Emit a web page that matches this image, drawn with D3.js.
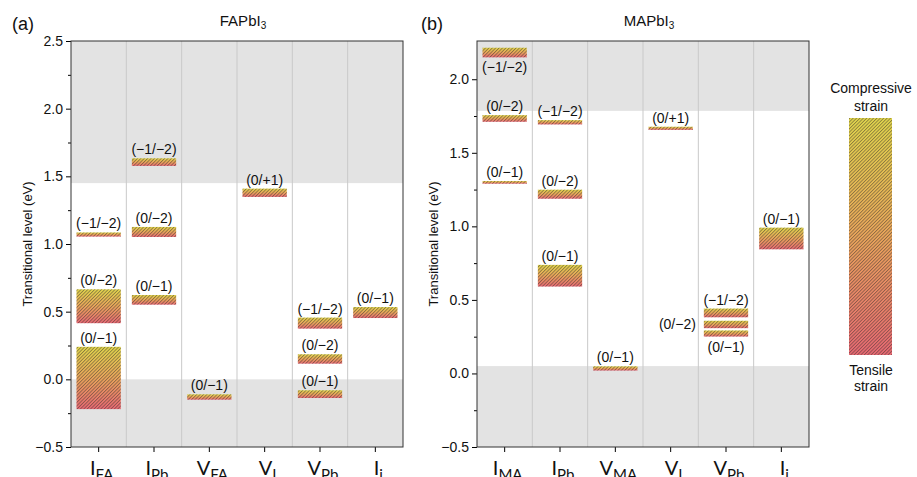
<!doctype html>
<html>
<head>
<script src="https://cdn.jsdelivr.net/npm/d3@7"></script>
<style>
  body { margin: 0; background: #fff; }
  svg { font-family: "Liberation Sans", Arial, sans-serif; }
</style>
</head>
<body>
<svg width="917" height="477"></svg>
<script>
// ---- data ----
var catsA = ["IFA", "IPb", "VFA", "VI", "VPb", "Ii"];
var mainA = ["I", "I", "V", "V", "V", "I"];
var subA  = ["FA", "Pb", "FA", "I", "Pb", "i"];

var catsB = ["IMA", "IPb", "VMA", "VI", "VPb", "Ii"];
var mainB = ["I", "I", "V", "V", "V", "I"];
var subB  = ["MA", "Pb", "MA", "I", "Pb", "i"];

// [defect, transition, low (eV), high (eV)]
var levelsA = [
  ["IFA", "(−1/−2)", 1.055, 1.085],
  ["IFA", "(0/−2)", 0.415, 0.665],
  ["IFA", "(0/−1)", -0.22, 0.24],
  ["IPb", "(−1/−2)", 1.577, 1.633],
  ["IPb", "(0/−2)", 1.052, 1.126],
  ["IPb", "(0/−1)", 0.552, 0.623],
  ["VFA", "(0/−1)", -0.15, -0.111],
  ["VI",  "(0/+1)", 1.348, 1.409],
  ["VPb", "(−1/−2)", 0.375, 0.456],
  ["VPb", "(0/−2)", 0.116, 0.185],
  ["VPb", "(0/−1)", -0.138, -0.081],
  ["Ii",  "(0/−1)", 0.453, 0.534]
];
var levelsB = [
  ["IMA", "(−1/−2)", 2.149, 2.214],
  ["IMA", "(0/−2)", 1.711, 1.756],
  ["IMA", "(0/−1)", 1.29, 1.308],
  ["IPb", "(−1/−2)", 1.693, 1.722],
  ["IPb", "(0/−2)", 1.188, 1.249],
  ["IPb", "(0/−1)", 0.591, 0.738],
  ["VMA", "(0/−1)", 0.02, 0.048],
  ["VI",  "(0/+1)", 1.656, 1.677],
  ["VPb", "(−1/−2)", 0.382, 0.441],
  ["VPb", "(0/−2)", 0.308, 0.358],
  ["VPb", "(0/−1)", 0.251, 0.292],
  ["Ii",  "(0/−1)", 0.844, 0.991]
];
// where each transition label sits in panel (b); default is above
var labelSideB = {0: "below", 9: "left", 10: "below"};

// band edges: [VBM, CBM]
var gapA = [0, 1.45];
var gapB = [0.05, 1.785];
var yDomA = [-0.5, 2.5];
var yDomB = [-0.5, 2.26];
var majorA = [-0.5, 0, 0.5, 1, 1.5, 2, 2.5];
var minorA = [-0.25, 0.25, 0.75, 1.25, 1.75, 2.25];
var majorB = [-0.5, 0, 0.5, 1, 1.5, 2];
var minorB = [-0.25, 0.25, 0.75, 1.25, 1.75];

var svg = d3.select("svg");
var defs = svg.append("defs");

var grad = defs.append("linearGradient").attr("id", "strain")
  .attr("x1", 0).attr("y1", 0).attr("x2", 0).attr("y2", 1);
grad.append("stop").attr("offset", "0%").attr("stop-color", "#e4d84c");
grad.append("stop").attr("offset", "50%").attr("stop-color", "#eea85c");
grad.append("stop").attr("offset", "100%").attr("stop-color", "#ec6a74");

var hatch = defs.append("pattern").attr("id", "hatch")
  .attr("patternUnits", "userSpaceOnUse")
  .attr("width", 2.4).attr("height", 2.4)
  .attr("patternTransform", "rotate(45)");
hatch.append("line")
  .attr("x1", 0.5).attr("y1", 0).attr("x2", 0.5).attr("y2", 2.4)
  .attr("stroke", "#2e2a2a").attr("stroke-width", 0.55).attr("stroke-opacity", 0.85);

var plotTop = 41, plotBottom = 447;

function drawPanel(opt) {
  var g = svg.append("g");
  var x = d3.scaleBand().domain(opt.cats).range([opt.x0, opt.x1])
    .paddingInner(0.2).paddingOuter(0.1);
  var y = d3.scaleLinear().domain(opt.yDom).range([plotBottom, plotTop]);

  // shaded bands (VB and CB)
  g.append("rect").attr("x", opt.x0).attr("width", opt.x1 - opt.x0)
    .attr("y", plotTop).attr("height", y(opt.gap[1]) - plotTop).attr("fill", "#e3e3e3");
  g.append("rect").attr("x", opt.x0).attr("width", opt.x1 - opt.x0)
    .attr("y", y(opt.gap[0])).attr("height", plotBottom - y(opt.gap[0])).attr("fill", "#e3e3e3");

  // column separators
  g.selectAll(".sep").data(opt.cats.slice(1)).enter().append("line")
    .attr("x1", d => x(d) - x.step() * 0.1).attr("x2", d => x(d) - x.step() * 0.1)
    .attr("y1", plotTop).attr("y2", plotBottom)
    .attr("stroke", "#c9c9c9").attr("stroke-width", 1);

  // levels
  var bars = g.selectAll(".lvl").data(opt.levels).enter().append("g");
  bars.append("rect")
    .attr("x", d => x(d[0])).attr("width", x.bandwidth())
    .attr("y", d => y(d[3])).attr("height", d => y(d[2]) - y(d[3]))
    .attr("fill", "url(#strain)");
  bars.append("rect")
    .attr("x", d => x(d[0])).attr("width", x.bandwidth())
    .attr("y", d => y(d[3])).attr("height", d => y(d[2]) - y(d[3]))
    .attr("fill", "url(#hatch)");

  bars.append("text")
    .attr("font-size", 14).attr("fill", "#111")
    .attr("text-anchor", (d, i) => (opt.sides[i] == "left") ? "end" : "middle")
    .attr("x", (d, i) => (opt.sides[i] == "left") ? x(d[0]) - 8 : x(d[0]) + x.bandwidth() / 2)
    .attr("y", function(d, i) {
      if (opt.sides[i] == "below") return y(d[2]) + 15;
      if (opt.sides[i] == "left") return (y(d[2]) + y(d[3])) / 2 + 5;
      return y(d[3]) - 4;
    })
    .text(d => d[1]);

  // axes
  var ya = g.append("g").attr("transform", "translate(" + opt.x0 + ",0)")
    .call(d3.axisLeft(y).tickValues(opt.major).tickSize(5).tickSizeOuter(0)
      .tickPadding(3).tickFormat(d3.format(".1f")));
  ya.selectAll("text").attr("font-size", 14).attr("fill", "#111")
    .attr("font-family", "Liberation Sans, Arial, sans-serif");
  ya.select(".domain").remove();
  var ym = g.append("g").attr("transform", "translate(" + opt.x0 + ",0)")
    .call(d3.axisLeft(y).tickValues(opt.minor).tickSize(3).tickFormat(""));
  ym.select(".domain").remove();

  var xa = g.append("g").attr("transform", "translate(0," + plotBottom + ")")
    .call(d3.axisBottom(x).tickSize(5).tickSizeOuter(0).tickFormat(""));
  xa.select(".domain").remove();

  var xl = g.selectAll(".xl").data(opt.cats).enter().append("text")
    .attr("x", d => x(d) + x.bandwidth() / 2 + 3).attr("y", 475)
    .attr("text-anchor", "middle")
    .attr("font-family", "Lato, 'Open Sans', sans-serif")
    .attr("fill", "#111");
  xl.append("tspan").attr("font-size", 20).text((d, i) => opt.main[i]);
  xl.append("tspan").attr("font-size", 15).attr("dy", 5).text((d, i) => opt.sub[i]);

  // frame
  g.append("rect").attr("x", opt.x0).attr("y", plotTop)
    .attr("width", opt.x1 - opt.x0).attr("height", plotBottom - plotTop)
    .attr("fill", "none").attr("stroke", "#333").attr("stroke-width", 1);

  // y title
  g.append("text")
    .attr("transform", "translate(" + opt.ylabX + "," + ((plotTop + plotBottom) / 2) + ") rotate(-90)")
    .attr("text-anchor", "middle").attr("dy", "0.35em")
    .attr("font-size", 13).attr("fill", "#111")
    .text("Transitional level (eV)");

  // panel title
  var t = g.append("text").attr("x", (opt.x0 + opt.x1) / 2 + 6).attr("y", 26)
    .attr("text-anchor", "middle").attr("font-size", 15).attr("fill", "#111");
  t.append("tspan").text(opt.title);
  t.append("tspan").attr("font-size", 10).attr("dy", 3).text("3");

  g.append("text").attr("x", opt.tagX).attr("y", 30)
    .attr("font-size", 18).attr("fill", "#111").text(opt.tag);
}

drawPanel({
  cats: catsA, main: mainA, sub: subA, levels: levelsA, sides: {},
  x0: 71, x1: 403, yDom: yDomA, gap: gapA, major: majorA, minor: minorA,
  ylabX: 27, title: "FAPbI", tag: "(a)", tagX: 12
});
drawPanel({
  cats: catsB, main: mainB, sub: subB, levels: levelsB, sides: labelSideB,
  x0: 477, x1: 809, yDom: yDomB, gap: gapB, major: majorB, minor: minorB,
  ylabX: 433, title: "MAPbI", tag: "(b)", tagX: 421
});

// strain legend
var lg = svg.append("g");
lg.append("rect").attr("x", 849).attr("y", 118).attr("width", 43).attr("height", 237)
  .attr("fill", "url(#strain)");
lg.append("rect").attr("x", 849).attr("y", 118).attr("width", 43).attr("height", 237)
  .attr("fill", "url(#hatch)");
var legText = [["Compressive", 93], ["strain", 111], ["Tensile", 375], ["strain", 391]];
lg.selectAll(".lt").data(legText).enter().append("text")
  .attr("x", 871).attr("y", d => d[1]).attr("text-anchor", "middle")
  .attr("font-size", 14).attr("fill", "#111").text(d => d[0]);
</script>
</body>
</html>
